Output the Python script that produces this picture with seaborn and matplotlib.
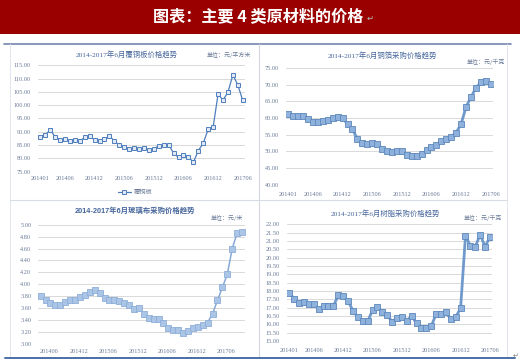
import matplotlib
matplotlib.use("Agg")
import matplotlib.pyplot as plt
import numpy as np
import pandas as pd
import seaborn as sns
from matplotlib.lines import Line2D
from matplotlib.patches import Rectangle

# monthly prices, 2014-01 .. 2017-06
ccl_price = [88.2, 88.8, 90.7, 88.2, 87.0, 87.3, 86.7, 87.0, 86.4, 88.0,
             88.3, 87.0, 86.7, 87.2, 88.5, 86.5, 85.0, 84.4, 83.5, 83.8,
             83.5, 83.8, 83.0, 83.7, 84.7, 84.9, 85.2, 81.9, 80.4, 81.4,
             80.6, 78.5, 82.9, 85.7, 90.9, 91.7, 104.1, 102.0, 104.8, 111.4,
             107.6, 101.8]
foil_price = [61.2, 60.6, 60.6, 60.6, 59.6, 58.8, 58.8, 59.1, 59.4, 60.1,
              60.2, 60.0, 58.2, 56.6, 53.7, 52.4, 52.2, 52.4, 52.3, 50.8,
              50.2, 49.9, 50.1, 50.0, 48.8, 48.5, 48.5, 49.1, 50.3, 51.4,
              51.8, 53.2, 53.7, 54.4, 55.6, 58.2, 63.3, 66.3, 69.0, 70.7,
              71.2, 70.1]
glass_price = [3.81, 3.73, 3.69, 3.66, 3.66, 3.71, 3.74, 3.73, 3.78, 3.82,
               3.88, 3.91, 3.85, 3.77, 3.74, 3.73, 3.72, 3.68, 3.65, 3.59,
               3.61, 3.50, 3.44, 3.42, 3.42, 3.35, 3.26, 3.24, 3.23, 3.19,
               3.22, 3.26, 3.28, 3.32, 3.36, 3.51, 3.73, 3.95, 4.17, 4.60,
               4.86, 4.87]
resin_price = [17.90, 17.52, 17.28, 17.34, 17.20, 17.24, 16.90, 17.08, 17.08, 17.10,
               17.74, 17.68, 17.40, 16.82, 16.42, 16.20, 16.18, 16.84, 17.06, 16.76,
               16.54, 16.16, 16.38, 16.46, 16.22, 16.50, 16.06, 15.80, 15.80, 15.88,
               16.62, 16.60, 16.74, 16.30, 16.44, 16.96, 21.32, 20.70, 20.66, 21.38,
               20.66, 21.24]

tick_labels = ["201401", "201406", "201412", "201506", "201512", "201606", "201612", "201706"]
tick_pos = [0, 5, 11, 17, 23, 29, 35, 41]
glass_tick_labels = tick_labels[1:]
glass_tick_pos = [1.8, 7.8, 13.8, 19.8, 25.8, 31.8, 37.8]

W, H = 520, 361
SERIF = ["Liberation Serif", "Noto Sans CJK SC"]
SANS = ["Liberation Sans", "Noto Sans CJK SC"]
CJK = ["Noto Sans CJK SC", "DejaVu Sans"]
TICK_C = "#6a7a98"
TITLE_C = "#46669c"

sns.set_style("white")
plt.rcParams["font.family"] = CJK

fig = plt.figure(figsize=(W / 100, H / 100), dpi=100)


def px_rect(left, top, right, bottom):
    return [left / W, 1 - bottom / H, (right - left) / W, (bottom - top) / H]


def draw_panel(rect, values, ylim, ystep, xticks, xlabels, line_kw, xpad, title, title_xy,
               unit, unit_xy, title_font=SERIF, title_bold=False, label=None):
    ax = fig.add_axes(px_rect(*rect))
    df = pd.DataFrame({"month": np.arange(len(values)), "price": values})
    sns.lineplot(data=df, x="month", y="price", ax=ax, marker="s", label=label,
                 legend=False, **line_kw)
    ax.set_xlim(-0.5, len(values) - 0.5)
    ax.set_ylim(*ylim)
    ax.set_yticks(np.arange(ylim[0], ylim[1] + ystep / 2, ystep))
    ax.set_yticklabels([f"{v:.2f}" for v in ax.get_yticks()])
    ax.set_xticks(xticks)
    ax.set_xticklabels(xlabels)
    ax.set_xlabel("")
    ax.set_ylabel("")
    for s in ax.spines.values():
        s.set_visible(False)
    ax.yaxis.grid(True, color="#d9d9d9", lw=0.7)
    ax.xaxis.grid(False)
    ax.tick_params(axis="both", length=0, labelsize=4.5, labelcolor=TICK_C)
    ax.tick_params(axis="x", pad=xpad)
    ax.tick_params(axis="y", pad=5)
    for t in ax.get_xticklabels() + ax.get_yticklabels():
        t.set_fontfamily(SERIF)
    fig.text(title_xy[0] / W, 1 - title_xy[1] / H, title, ha="center", va="center",
             fontsize=5.3, color=TITLE_C, family=title_font,
             fontweight="bold" if title_bold else "normal")
    fig.text(unit_xy[0] / W, 1 - unit_xy[1] / H, unit, ha="right", va="center",
             fontsize=4.3, color=TICK_C, family=CJK)
    return ax


thin = dict(color="#4f7fbd", lw=0.9, markersize=2.8, markerfacecolor="#dfe8f4",
            markeredgecolor="#4f7fbd", markeredgewidth=0.7)
thick = dict(color="#7099cc", lw=2.0, markersize=4.2, markerfacecolor="#8fb2dc",
             markeredgecolor="#5d87bd", markeredgewidth=0.6)
glass = dict(color="#86a9d6", lw=1.1, markersize=4.0, markerfacecolor="#aac5e6",
             markeredgecolor="#8eaed8", markeredgewidth=0.6)

ax1 = draw_panel((37.8, 65.3, 245.2, 171.7), ccl_price, (75, 115), 5, tick_pos, tick_labels,
                 thin, 3, "2014-2017年6月覆铜板价格趋势", (127, 54),
                 "单位：元/平方米", (251, 55), label="覆铜板")
ax1.legend(loc="center", bbox_to_anchor=(135 / W, 1 - 192 / H), bbox_transform=fig.transFigure,
           frameon=False, fontsize=4.5, labelcolor=TICK_C, handlelength=2.2, handletextpad=0.4)

draw_panel((285.8, 68.0, 493.2, 184.7), foil_price, (40, 75), 5, tick_pos, tick_labels,
           thick, 5, "2014-2017年6月铜箔采购价格趋势", (382, 55),
           "单位：元/千克", (505, 62))

draw_panel((38.2, 224.7, 244.5, 344.0), glass_price, (3.0, 5.0), 0.2, glass_tick_pos,
           glass_tick_labels, glass, 3.5, "2014-2017年6月玻璃布采购价格趋势", (135, 211),
           "单位：元/米", (243, 218), title_font=SANS, title_bold=True)

draw_panel((286.9, 224.3, 492.4, 341.0), resin_price, (15, 22), 0.5, tick_pos, tick_labels,
           thick, 5, "2014-2017年6月树脂采购价格趋势", (385, 213),
           "单位：元/千克", (502, 218))

# frame: title bar and panel borders, in pixel coordinates
fg = fig.add_axes([0, 0, 1, 1], zorder=5)
fg.set_xlim(0, W)
fg.set_ylim(H, 0)
fg.axis("off")
fg.patch.set_alpha(0)
fg.add_patch(Rectangle((0, 0), W, 34, color="#9b0000", lw=0))
fg.text(258, 17, "图表：主要 4 类原材料的价格", ha="center", va="center",
        fontsize=11.6, color="white", fontweight="bold", family=CJK)
fg.text(370, 18, "↵", ha="center", va="center", fontsize=6, color="#b9b9b9", family="DejaVu Sans")
fg.add_line(Line2D([4, 511], [43.5, 43.5], color="#7f8fb5", lw=1.3))
fg.add_line(Line2D([258.5, 258.5], [44, 357], color="#d3d8e0", lw=0.8))
fg.add_line(Line2D([9.5, 9.5], [44, 357], color="#e2e6ec", lw=0.7))
fg.add_line(Line2D([507, 507], [44, 357], color="#e2e6ec", lw=0.7))
fg.add_line(Line2D([9.5, 507], [199.5, 199.5], color="#d8dde5", lw=0.8))
fg.add_line(Line2D([5, 515], [358.3, 358.3], color="#4a6ea8", lw=1.4))
fg.text(516, 356, "↵", ha="center", va="center", fontsize=5, color="#8a8a8a", family="DejaVu Sans")

fig.savefig("out.png", dpi=100)
